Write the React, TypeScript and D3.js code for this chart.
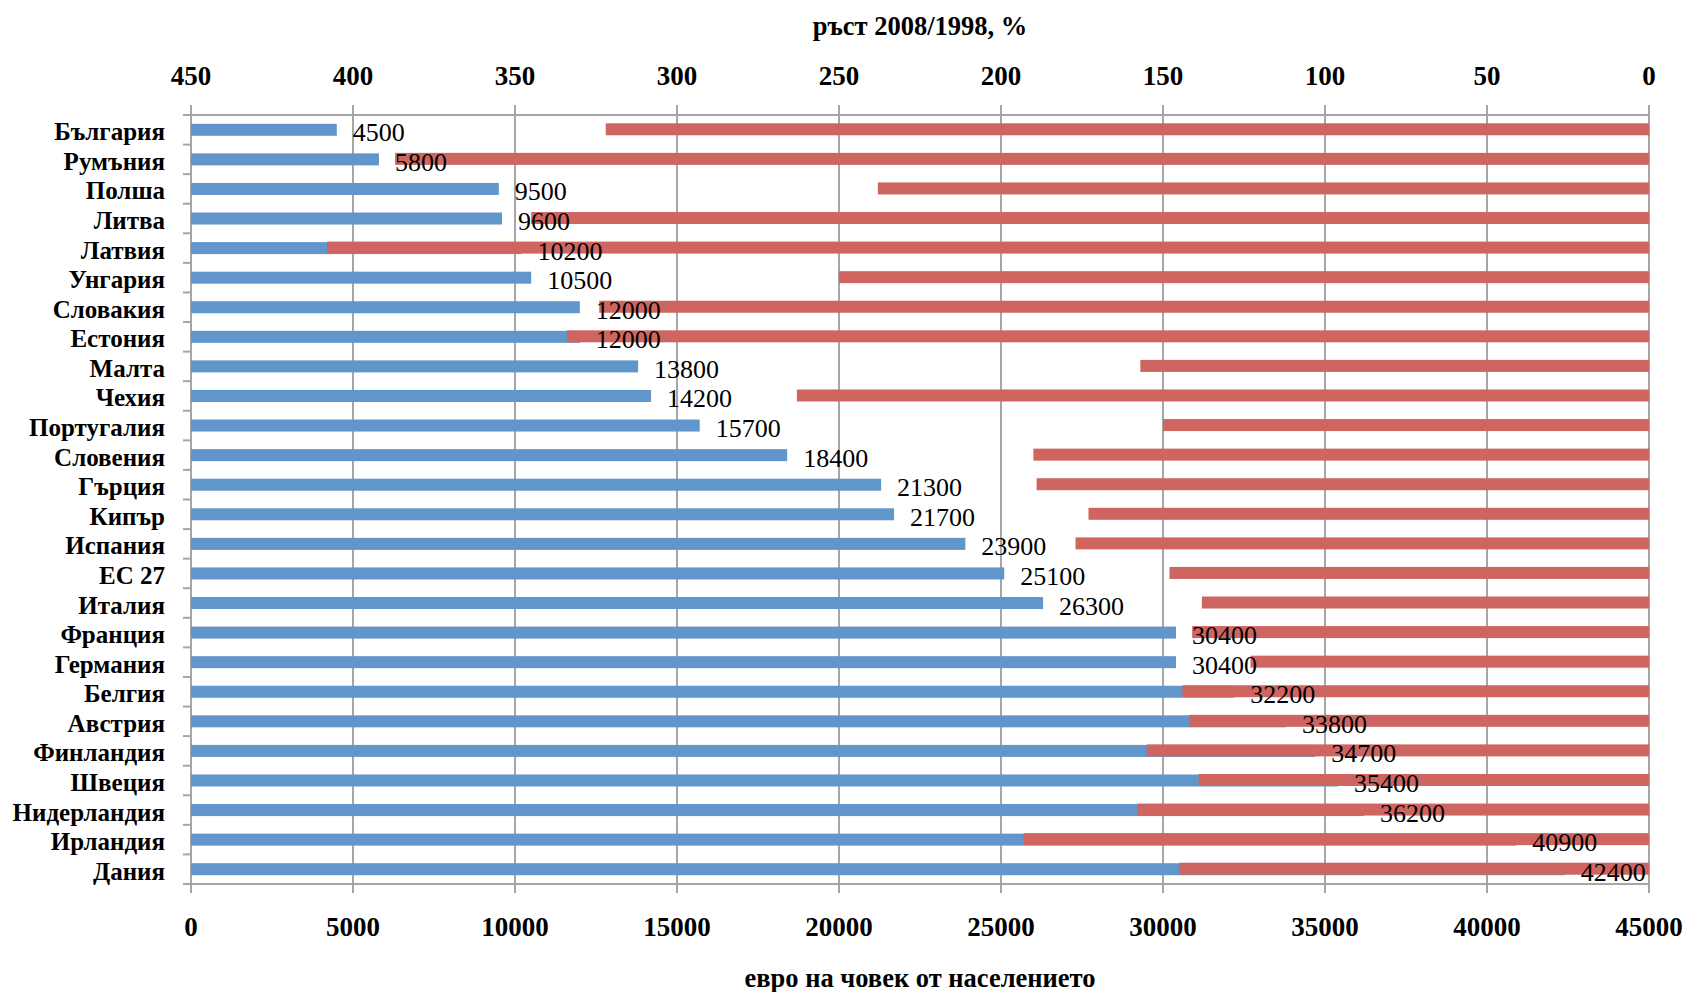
import React, { useEffect, useRef } from "react";
import * as d3 from "d3";

const countries = [
  "България", "Румъния", "Полша", "Литва", "Латвия", "Унгария", "Словакия",
  "Естония", "Малта", "Чехия", "Португалия", "Словения", "Гърция", "Кипър",
  "Испания", "ЕС 27", "Италия", "Франция", "Германия", "Белгия", "Австрия",
  "Финландия", "Швеция", "Нидерландия", "Ирландия", "Дания",
];

// евро на човек от населението (bottom axis)
const perCapita = [
  4500, 5800, 9500, 9600, 10200, 10500, 12000, 12000, 13800, 14200, 15700,
  18400, 21300, 21700, 23900, 25100, 26300, 30400, 30400, 32200, 33800,
  34700, 35400, 36200, 40900, 42400,
];

// ръст 2008/1998, % (top axis, reversed)
const growth = [
  322, 387, 238, 345, 408, 250, 324, 334, 157, 263, 150, 190, 189, 173, 177,
  148, 138, 141, 123, 144, 142, 155, 139, 158, 193, 145,
];

const bottomTicks = [0, 5000, 10000, 15000, 20000, 25000, 30000, 35000, 40000, 45000];
const topTicks = [450, 400, 350, 300, 250, 200, 150, 100, 50, 0];

const W = 1684;
const H = 992;
const FONT = "'Liberation Serif', 'Times New Roman', serif";

const App: React.FC = () => {
  const svgRef = useRef<SVGSVGElement>(null);

  useEffect(() => {
    if (!svgRef.current) return;
    const svg = d3.select(svgRef.current);
    svg.selectAll("*").remove();

    const left = 191;
    const right = 1649;
    const top = 115;
    const bottom = 884;
    const barH = 12;
    const gridColor = "#a6a6a6";

    const xBottom = d3.scaleLinear().domain([0, 45000]).range([left, right]);
    const xTop = d3.scaleLinear().domain([450, 0]).range([left, right]);
    const y = d3.scaleBand<string>().domain(countries).range([top, bottom]);
    const band = y.bandwidth();

    // Vertical grid lines (with outside ticks at both ends)
    svg.append("g")
      .selectAll("line")
      .data(bottomTicks)
      .join("line")
      .attr("x1", d => xBottom(d))
      .attr("x2", d => xBottom(d))
      .attr("y1", top - 10)
      .attr("y2", bottom + 9)
      .attr("stroke", gridColor)
      .attr("stroke-width", 2);

    // Horizontal axis lines
    [top, bottom].forEach(yy => {
      svg.append("line")
        .attr("x1", left - 8)
        .attr("x2", right)
        .attr("y1", yy)
        .attr("y2", yy)
        .attr("stroke", gridColor)
        .attr("stroke-width", 2);
    });

    // Category ticks on left axis
    svg.append("g")
      .selectAll("line")
      .data(d3.range(countries.length + 1))
      .join("line")
      .attr("x1", left - 8)
      .attr("x2", left)
      .attr("y1", i => top + i * band)
      .attr("y2", i => top + i * band)
      .attr("stroke", gridColor)
      .attr("stroke-width", 2);

    // Blue bars
    svg.append("g")
      .selectAll("rect")
      .data(countries)
      .join("rect")
      .attr("x", xBottom(0))
      .attr("y", d => (y(d) as number) + band / 2 - barH / 2)
      .attr("width", (d, i) => xBottom(perCapita[i]) - xBottom(0))
      .attr("height", barH)
      .attr("fill", "#6096ca");

    // Red bars from the right
    svg.append("g")
      .selectAll("rect")
      .data(countries)
      .join("rect")
      .attr("x", (d, i) => xTop(growth[i]))
      .attr("y", d => (y(d) as number) + band / 2 - barH / 2 - 0.5)
      .attr("width", (d, i) => xTop(0) - xTop(growth[i]))
      .attr("height", barH)
      .attr("fill", "#cf6560");

    // Data labels
    svg.append("g")
      .selectAll("text")
      .data(countries)
      .join("text")
      .attr("x", (d, i) => xBottom(perCapita[i]) + 16)
      .attr("y", d => (y(d) as number) + band / 2 + 3)
      .attr("dominant-baseline", "central")
      .attr("font-family", FONT)
      .attr("font-size", 26)
      .attr("fill", "#000")
      .text((d, i) => String(perCapita[i]));

    // Category labels
    svg.append("g")
      .selectAll("text")
      .data(countries)
      .join("text")
      .attr("x", 165)
      .attr("y", d => (y(d) as number) + band / 2 + 2)
      .attr("text-anchor", "end")
      .attr("dominant-baseline", "central")
      .attr("font-family", FONT)
      .attr("font-weight", "bold")
      .attr("font-size", 25)
      .attr("fill", "#000")
      .text(d => d);

    // Top tick labels
    svg.append("g")
      .selectAll("text")
      .data(topTicks)
      .join("text")
      .attr("x", d => xTop(d))
      .attr("y", 76)
      .attr("text-anchor", "middle")
      .attr("dominant-baseline", "central")
      .attr("font-family", FONT)
      .attr("font-weight", "bold")
      .attr("font-size", 27)
      .text(d => String(d));

    // Bottom tick labels
    svg.append("g")
      .selectAll("text")
      .data(bottomTicks)
      .join("text")
      .attr("x", d => xBottom(d))
      .attr("y", 927)
      .attr("text-anchor", "middle")
      .attr("dominant-baseline", "central")
      .attr("font-family", FONT)
      .attr("font-weight", "bold")
      .attr("font-size", 27)
      .text(d => String(d));

    // Axis titles
    svg.append("text")
      .attr("x", (left + right) / 2)
      .attr("y", 26)
      .attr("text-anchor", "middle")
      .attr("dominant-baseline", "central")
      .attr("font-family", FONT)
      .attr("font-weight", "bold")
      .attr("font-size", 26.5)
      .text("ръст 2008/1998, %");

    svg.append("text")
      .attr("x", (left + right) / 2)
      .attr("y", 978)
      .attr("text-anchor", "middle")
      .attr("dominant-baseline", "central")
      .attr("font-family", FONT)
      .attr("font-weight", "bold")
      .attr("font-size", 26.5)
      .text("евро на човек от населението");
  }, []);

  return (
    <div style={{ position: "absolute", left: 0, top: 0, width: W, height: H, background: "white" }}>
      <svg ref={svgRef} width={W} height={H} style={{ display: "block" }} />
    </div>
  );
};

export default App;
